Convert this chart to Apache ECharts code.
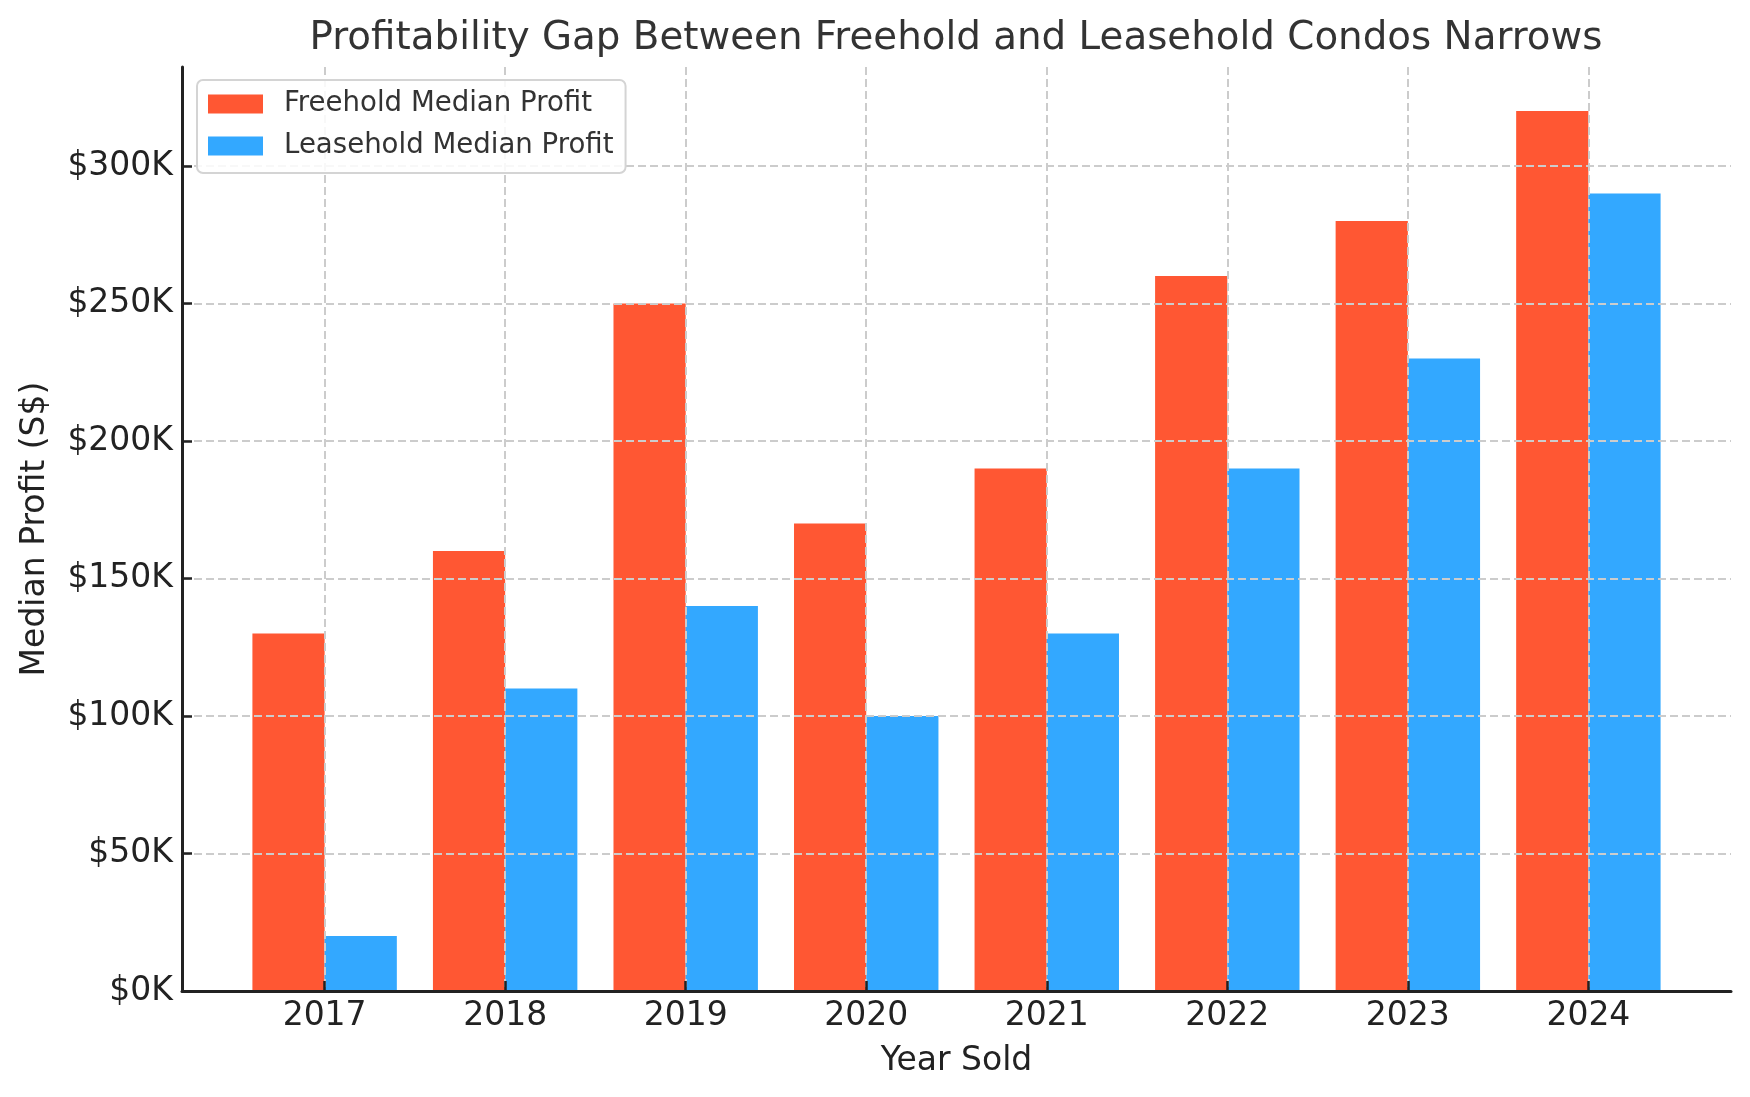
<!DOCTYPE html>
<html>
<head>
<meta charset="utf-8">
<script src="https://cdn.jsdelivr.net/npm/echarts@6/dist/echarts.min.js"></script>
<style>
html,body{margin:0;padding:0;background:#fff;}
#chart{width:1750px;height:1097px;}
</style>
</head>
<body>
<div id="chart"></div>
<script>
const years = ['2017','2018','2019','2020','2021','2022','2023','2024'];
const freehold = [130000,160000,250000,170000,190000,260000,280000,320000];
const leasehold = [20000,110000,140000,100000,130000,190000,230000,290000];
const yTicks = [0,50000,100000,150000,200000,250000,300000];
const xTicks = years.map((y,i)=>i);

const FONT = 'DejaVu Sans';
const chart = echarts.init(document.getElementById('chart'), null, {renderer:'canvas'});
const gridLine = {show:true, lineStyle:{color:'#cccccc', width:2, type:[8,4]}};
chart.setOption({
  backgroundColor:'#ffffff',
  animation:false,
  textStyle:{fontFamily:FONT},
  title:{
    text:'Profitability Gap Between Freehold and Leasehold Condos Narrows',
    left:956, top:19, textAlign:'center', padding:0,
    textStyle:{fontFamily:FONT, fontSize:38.8, fontWeight:'normal', color:'#333333'}
  },
  legend:{
    orient:'vertical', left:197, top:80,
    padding:[10,12,13,11],
    itemWidth:55, itemHeight:19, itemGap:14,
    icon:'rect',
    backgroundColor:'rgba(255,255,255,0.85)',
    borderColor:'#d4d4d4', borderWidth:2, borderRadius:6,
    textStyle:{fontFamily:FONT, fontSize:27.6, color:'#333333', padding:[0,0,0,16]},
    data:['Freehold Median Profit','Leasehold Median Profit']
  },
  grid:{left:182, right:19, top:67, bottom:106, containLabel:false},
  xAxis:{
    type:'value', min:-0.79, max:7.79, z:3,
    name:'Year Sold', nameLocation:'middle', nameGap:54,
    nameTextStyle:{fontFamily:FONT, fontSize:33, color:'#222222'},
    axisLine:{show:true, onZero:false, lineStyle:{color:'#222222', width:3}},
    axisTick:{show:true, inside:true, length:10, customValues:xTicks, lineStyle:{color:'#222222', width:2.5}},
    axisLabel:{show:true, customValues:xTicks, margin:9, fontFamily:FONT, fontSize:33, color:'#222222',
      formatter:(v)=>years[Math.round(v)]},
    splitLine:gridLine
  },
  yAxis:{
    type:'value', min:0, max:336000, z:3,
    name:'Median Profit (S$)', nameLocation:'middle', nameGap:130,
    nameTextStyle:{fontFamily:FONT, fontSize:33, color:'#222222'},
    axisLine:{show:true, onZero:false, lineStyle:{color:'#222222', width:3}},
    axisTick:{show:true, inside:true, length:10, customValues:yTicks, lineStyle:{color:'#222222', width:2.5}},
    axisLabel:{show:true, customValues:yTicks, margin:9, fontFamily:FONT, fontSize:33, color:'#222222',
      formatter:(v)=>'$'+Math.round(v/1000)+'K'},
    splitLine:gridLine
  },
  series:[
    {name:'Freehold Median Profit', type:'bar', barWidth:'40%', barGap:'0%',
     itemStyle:{color:'#FF5733'}, data:freehold.map((v,i)=>[i,v])},
    {name:'Leasehold Median Profit', type:'bar', barWidth:'40%', barGap:'0%',
     itemStyle:{color:'#33A8FF'}, data:leasehold.map((v,i)=>[i,v])}
  ]
});
</script>
</body>
</html>
